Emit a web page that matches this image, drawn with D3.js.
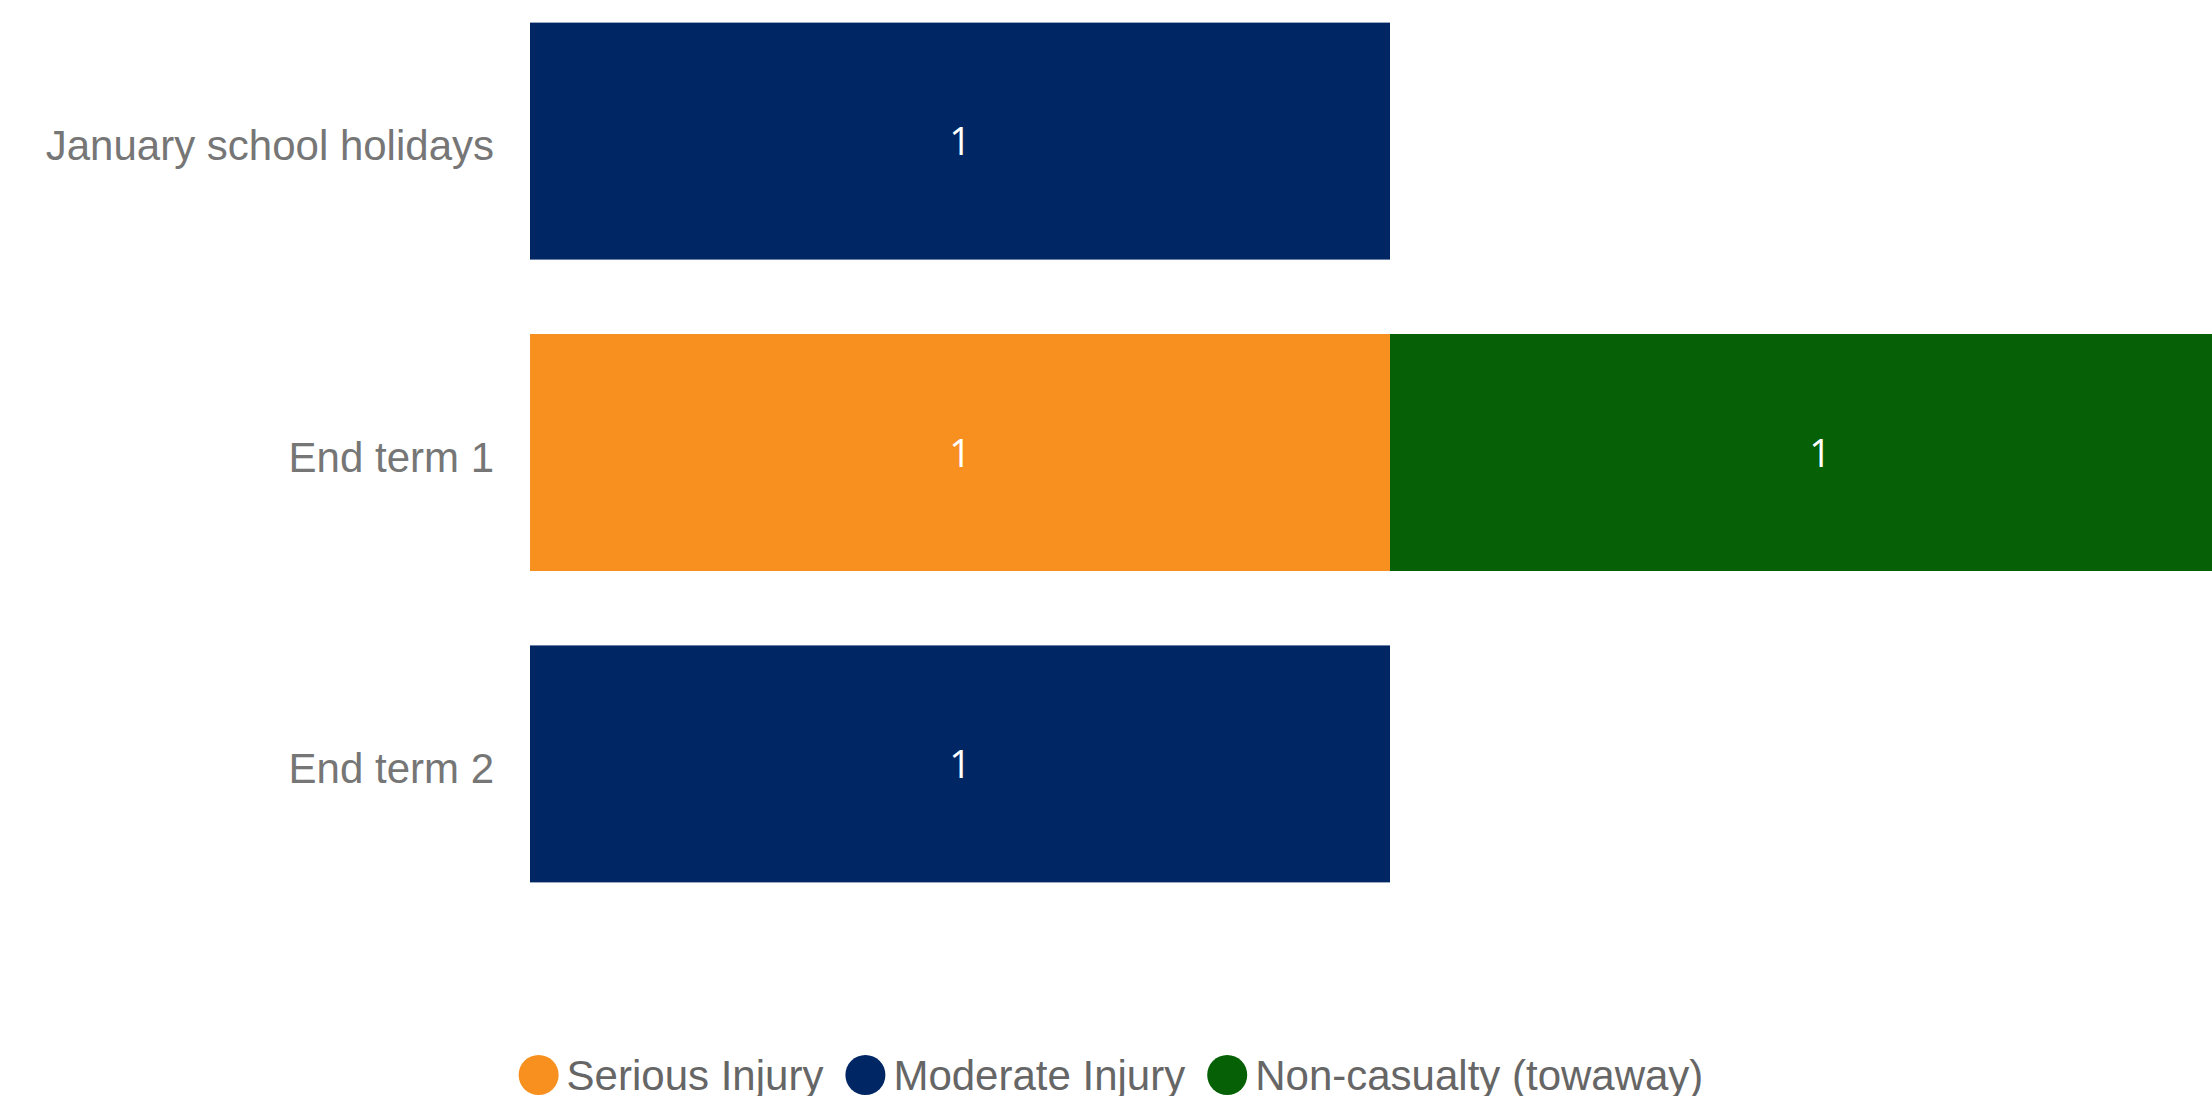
<!DOCTYPE html>
<html>
<head>
<meta charset="utf-8">
<script src="https://cdn.jsdelivr.net/npm/d3@7"></script>
<style>
  html, body { margin: 0; padding: 0; background: #ffffff; overflow: hidden; }
  svg { display: block; }
</style>
</head>
<body>
<svg id="chart" width="2212" height="1096"></svg>
<script>
const categories = ["January school holidays", "End term 1", "End term 2"];
const seriesNames = ["Serious Injury", "Moderate Injury", "Non-casualty (towaway)"];
const seriousInjury = [0, 1, 0];
const moderateInjury = [1, 0, 1];
const nonCasualty = [0, 1, 0];
const seriesColors = ["#F7901F", "#002664", "#056006"];

const rows = categories.map((c, i) => ({
  category: c,
  "Serious Injury": seriousInjury[i],
  "Moderate Injury": moderateInjury[i],
  "Non-casualty (towaway)": nonCasualty[i]
}));

const W = 2212, H = 1096;
const svg = d3.select("#chart");

const x = d3.scaleLinear().domain([0, 2]).range([530, 2250]);
const y = d3.scaleBand().domain(categories).range([0, 905]).paddingInner(0.239).paddingOuter(0.0726);
const color = d3.scaleOrdinal().domain(seriesNames).range(seriesColors);

const stacked = d3.stack().keys(seriesNames)(rows);

const layers = svg.append("g").selectAll("g")
  .data(stacked).join("g")
  .attr("fill", d => color(d.key));

layers.selectAll("rect")
  .data(d => d.filter(p => p[1] - p[0] > 0).map(p => ({p, key: d.key})))
  .join("rect")
  .attr("x", d => x(d.p[0]))
  .attr("y", d => y(d.p.data.category))
  .attr("width", d => x(d.p[1]) - x(d.p[0]))
  .attr("height", y.bandwidth());

layers.selectAll("text")
  .data(d => d.filter(p => p[1] - p[0] > 0).map(p => ({p, key: d.key})))
  .join("text")
  .attr("x", d => (x(d.p[0]) + x(d.p[1])) / 2)
  .attr("y", d => y(d.p.data.category) + y.bandwidth() / 2 + 14)
  .attr("text-anchor", "middle")
  .attr("fill", "#ffffff")
  .style("font-family", "'Open Sans', 'Liberation Sans', sans-serif")
  .style("font-size", "38px")
  .text(d => d.p[1] - d.p[0]);

// category axis labels
const yAxis = d3.axisLeft(y).tickSize(0).tickPadding(0);
const ag = svg.append("g").attr("transform", "translate(494,0)").call(yAxis);
ag.select(".domain").remove();
ag.selectAll("text")
  .attr("dy", null)
  .attr("y", 19)
  .attr("fill", "#767676")
  .style("font-family", "'Liberation Sans', Arial, sans-serif")
  .style("font-size", "42px");

// legend
const legend = svg.append("g");
const r = 20, gapCircleText = 8, gapItems = 22, legendY = 1075;
const items = legend.selectAll("g").data(seriesNames).join("g");
items.append("circle").attr("r", r).attr("cy", legendY).attr("fill", d => color(d));
items.append("text")
  .attr("y", legendY + 15)
  .attr("fill", "#666666")
  .style("font-family", "'Liberation Sans', Arial, sans-serif")
  .style("font-size", "42px")
  .text(d => d);
let widths = [];
items.each(function() { widths.push(d3.select(this).select("text").node().getComputedTextLength()); });
const total = widths.reduce((a, w) => a + 2 * r + gapCircleText + w, 0) + gapItems * (widths.length - 1);
let cx = W / 2 - total / 2 + 5;
items.each(function(d, i) {
  const g = d3.select(this);
  g.select("circle").attr("cx", cx + r);
  g.select("text").attr("x", cx + 2 * r + gapCircleText);
  cx += 2 * r + gapCircleText + widths[i] + gapItems;
});
</script>
</body>
</html>
